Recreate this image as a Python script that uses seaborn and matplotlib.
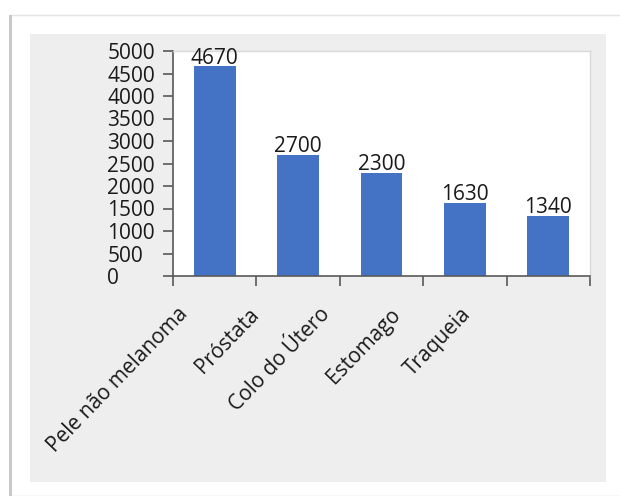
import matplotlib
matplotlib.use("Agg")
import matplotlib.pyplot as plt
import matplotlib.transforms as mtransforms
from matplotlib.patches import Rectangle
import seaborn as sns
import pandas as pd

categories = ["Pele não melanoma", "Próstata", "Colo do Útero", "Estomago", "Traqueia"]
values = [4670, 2700, 2300, 1630, 1340]
yticks = [0, 500, 1000, 1500, 2000, 2500, 3000, 3500, 4000, 4500, 5000]

sns.set_theme(style="white")
plt.rcParams["font.family"] = ["Open Sans", "DejaVu Sans"]

W, H = 620, 496
fig = plt.figure(figsize=(6.2, 4.96), dpi=100)
fig.patch.set_facecolor("white")

# outer white card with shadow
fig.add_artist(Rectangle((10 / W, 0), 1, 1 - 15 / H, transform=fig.transFigure,
                         facecolor="white", edgecolor="#e4e4e4", linewidth=1, zorder=0))
fig.add_artist(Rectangle((9 / W, 0), 3 / W, 1 - 15 / H, transform=fig.transFigure,
                         facecolor="#c8c8c8", edgecolor="none", zorder=0))
# gray chart area
fig.add_artist(Rectangle((30 / W, 1 - 482 / H), (606 - 30) / W, (482 - 34) / H,
                         transform=fig.transFigure, facecolor="#eeeeee",
                         edgecolor="none", zorder=0))

ax = fig.add_axes([173 / W, 1 - 276 / H, (590 - 173) / W, (276 - 51) / H])
ax.set_facecolor("white")

df = pd.DataFrame({"cat": categories, "val": values})
sns.barplot(data=df, x="cat", y="val", color="#4472C4", width=0.5,
            saturation=1, linewidth=0, ax=ax)

ax.set_xlim(-0.5, len(categories) - 0.5)
ax.set_ylim(0, 5000)
ax.set_yticks(yticks)
ax.set_yticklabels([str(t) for t in yticks])
ax.set_xlabel("")
ax.set_ylabel("")

for side in ["top", "right"]:
    ax.spines[side].set_visible(True)
    ax.spines[side].set_color("#d9d9d9")
    ax.spines[side].set_linewidth(1)
for side in ["left", "bottom"]:
    ax.spines[side].set_color("#595959")
    ax.spines[side].set_linewidth(1.2)

fs = 15
ax.tick_params(axis="y", which="major", direction="out", length=7.2, width=1.2,
               color="#595959", left=True, pad=40, labelsize=fs, labelcolor="#1a1a1a")
for lab in ax.get_yticklabels():
    lab.set_horizontalalignment("left")

# x ticks: marks at category boundaries, labels at centres
ax.set_xticks([i - 0.5 for i in range(len(categories) + 1)], minor=True)
ax.tick_params(axis="x", which="minor", direction="out", length=7.2, width=1.2,
               color="#595959", bottom=True)
ax.tick_params(axis="x", which="major", length=0, pad=20, labelsize=fs,
               labelcolor="#1a1a1a")
ax.set_xticks(range(len(categories)))
ax.set_xticklabels(categories, rotation=46, ha="right", va="top",
                   rotation_mode="default")
for i, lab in enumerate(ax.get_xticklabels()):
    dx = (-22 - 12.7 * i) / 100.0
    off = mtransforms.ScaledTranslation(dx, 0, fig.dpi_scale_trans)
    lab.set_transform(lab.get_transform() + off)

ax.bar_label(ax.containers[0], labels=[str(v) for v in values], padding=-2,
             fontsize=fs, color="#1a1a1a")

fig.savefig("out.png", dpi=100, facecolor="white")
